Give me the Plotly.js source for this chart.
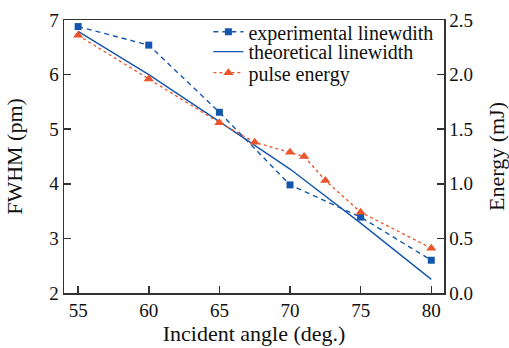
<!DOCTYPE html>
<html>
<head>
<meta charset="utf-8">
<script src="https://cdn.plot.ly/plotly-3.0.1.min.js"></script>
<style>html,body{margin:0;padding:0;background:#fff;}#chart{width:509px;height:348px;}</style>
</head>
<body>
<div id="chart"></div>
<script>
// Data
const expAngles = [55, 60, 65, 70, 75, 80];
const expLinewidth = [6.88, 6.54, 5.31, 3.98, 3.39, 2.60];

const theoAngles = [55, 60, 65, 70, 75, 80];
const theoLinewidth = [6.79, 6.00, 5.14, 4.27, 3.28, 2.25];

const energyAngles = [55, 60, 65, 67.5, 70, 71, 72.5, 75, 80];
const pulseEnergy = [2.36, 1.96, 1.56, 1.38, 1.29, 1.25, 1.03, 0.74, 0.41];

const xTicks = [55, 60, 65, 70, 75, 80];
const yTicks = [2, 3, 4, 5, 6, 7];
const y2Ticks = [0, 0.5, 1, 1.5, 2, 2.5];
const y2TickText = ['0.0', '0.5', '1.0', '1.5', '2.0', '2.5'];

const BLUE = '#1456ad';
const ORANGE = '#e9562c';
const AX = '#333333';
const FONT = 'Liberation Serif';

const traces = [
  {
    x: expAngles, y: expLinewidth, name: 'experimental linewdith',
    type: 'scatter', mode: 'lines+markers', legend: 'legend',
    line: {color: BLUE, width: 1.4, dash: '5px,4px'},
    marker: {symbol: 'square', size: 7, color: BLUE}
  },
  {
    x: theoAngles, y: theoLinewidth, name: 'theoretical linewidth',
    type: 'scatter', mode: 'lines', legend: 'legend2',
    line: {color: BLUE, width: 1.4}
  },
  {
    x: energyAngles, y: pulseEnergy, name: 'pulse energy', yaxis: 'y2',
    type: 'scatter', mode: 'lines+markers', legend: 'legend3',
    line: {color: ORANGE, width: 1.3, dash: 'dot'},
    marker: {symbol: 'triangle-up', size: 9, color: ORANGE}
  }
];

function legendAt(yPaper) {
  return {
    x: 0.38, y: yPaper, xanchor: 'left', yanchor: 'middle',
    bgcolor: 'rgba(0,0,0,0)', borderwidth: 0,
    font: {family: FONT, size: 20, color: '#111'},
    itemwidth: 30
  };
}

const layout = {
  width: 509, height: 348,
  margin: {l: 64, r: 65, t: 18, b: 55, pad: 0},
  paper_bgcolor: '#fff', plot_bgcolor: '#fff',
  font: {family: FONT, color: '#111', size: 19},
  showlegend: true,
  legend: legendAt(0.957),
  legend2: legendAt(0.884),
  legend3: legendAt(0.807),
  xaxis: {
    range: [54.0, 80.9], tickvals: xTicks, ticktext: xTicks.map(String),
    showgrid: false, zeroline: false,
    showline: true, linecolor: AX, linewidth: 1.5, mirror: true,
    ticks: 'inside', ticklen: 7, tickwidth: 1.5, tickcolor: AX,
    tickfont: {family: FONT, size: 19},
    title: {text: 'Incident angle (deg.)', font: {family: FONT, size: 22}, standoff: 1}
  },
  yaxis: {
    range: [2, 7], tickvals: yTicks, ticktext: yTicks.map(String),
    showgrid: false, zeroline: false,
    showline: true, linecolor: AX, linewidth: 1.5,
    ticks: 'inside', ticklen: 7, tickwidth: 1.5, tickcolor: AX,
    tickfont: {family: FONT, size: 19},
    title: {text: 'FWHM (pm)', font: {family: FONT, size: 22}, standoff: 20}
  },
  yaxis2: {
    range: [0, 2.5], tickvals: y2Ticks, ticktext: y2TickText,
    overlaying: 'y', side: 'right',
    showgrid: false, zeroline: false,
    showline: true, linecolor: AX, linewidth: 1.5,
    ticks: 'inside', ticklen: 7, tickwidth: 1.5, tickcolor: AX,
    tickfont: {family: FONT, size: 19},
    title: {text: 'Energy (mJ)', font: {family: FONT, size: 22}, standoff: 23}
  }
};

Plotly.newPlot('chart', traces, layout, {displayModeBar: false, staticPlot: true});
</script>
</body>
</html>
